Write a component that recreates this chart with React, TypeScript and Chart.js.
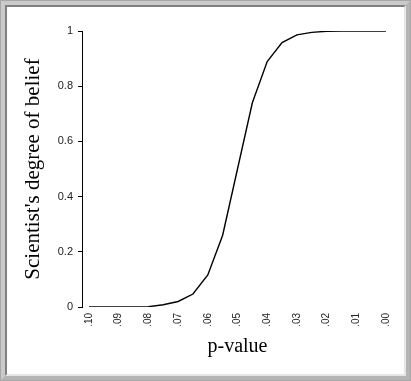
import React, { useEffect, useRef } from "react";
import { Chart, registerables } from "chart.js";

Chart.register(...registerables);

const pValues = [0.1, 0.095, 0.09, 0.085, 0.08, 0.075, 0.07, 0.065, 0.06, 0.055, 0.05, 0.045, 0.04, 0.035, 0.03, 0.025, 0.02, 0.015, 0.01, 0.005, 0];
const belief = [0, 0, 0, 0, 0.001, 0.008, 0.02, 0.047, 0.116, 0.26, 0.5, 0.74, 0.889, 0.958, 0.986, 0.995, 0.999, 1, 1, 1, 1];
const xTickValues = [0.1, 0.09, 0.08, 0.07, 0.06, 0.05, 0.04, 0.03, 0.02, 0.01, 0];

const W = 411;
const H = 381;

export default function App() {
  const ref = useRef<HTMLCanvasElement | null>(null);

  useEffect(() => {
    document.body.style.margin = "0";
    const canvas = ref.current;
    if (!canvas) return;
    const chart = new Chart(canvas, {
      type: "line",
      data: {
        datasets: [
          {
            data: pValues.map((p, i) => ({ x: p, y: belief[i] })),
            borderColor: "#000",
            borderWidth: 1.4,
            pointRadius: 0,
            tension: 0,
            fill: false,
          },
        ],
      },
      options: {
        animation: false,
        responsive: false,
        devicePixelRatio: 1,
        layout: { padding: { left: 13, top: 31, right: 18, bottom: 14 } },
        plugins: { legend: { display: false }, tooltip: { enabled: false } },
        scales: {
          x: {
            type: "linear",
            reverse: true,
            min: -0.00236,
            max: 0.10236,
            grid: { display: false, drawTicks: false },
            border: { display: false },
            afterBuildTicks: (scale: any) => {
              scale.ticks = xTickValues.map((v) => ({ value: v }));
            },
            afterFit: (scale: any) => {
              scale.height = H - 14 - 307;
            },
            ticks: {
              autoSkip: false,
              minRotation: 90,
              maxRotation: 90,
              padding: 6,
              color: "#222",
              font: { family: "Liberation Sans, Arial", size: 10 },
              callback: (v: any) => "." + String(Math.round(Number(v) * 100)).padStart(2, "0"),
            },
            title: {
              display: true,
              text: "p-value",
              color: "#000",
              font: { family: "Liberation Serif, Times New Roman", size: 20 },
              padding: { top: 0, bottom: 8 },
            },
          },
          y: {
            min: 0,
            max: 1,
            grid: { drawOnChartArea: false, drawTicks: true, tickLength: 4, color: "#000" },
            border: { display: true, color: "#000", width: 1 },
            afterFit: (scale: any) => {
              scale.width = 82 - 13;
            },
            ticks: {
              stepSize: 0.2,
              padding: 5,
              color: "#222",
              font: { family: "Liberation Sans, Arial", size: 11 },
              callback: (v: any) => String(Math.round(Number(v) * 10) / 10),
            },
            title: {
              display: true,
              text: "Scientist's degree of belief",
              color: "#000",
              font: { family: "Liberation Serif, Times New Roman", size: 21 },
              padding: { top: 8, bottom: 0 },
            },
          },
        },
      },
    });
    return () => chart.destroy();
  }, []);

  return (
    <div style={{ position: "fixed", left: 0, top: 0, width: W, height: H, background: "#fff" }}>
      <canvas ref={ref} width={W} height={H} style={{ position: "absolute", left: 0, top: 0 }} />
      <div
        style={{
          position: "absolute",
          left: 0,
          top: 0,
          width: W,
          height: H,
          boxSizing: "border-box",
          border: "1px solid #a8a8a8",
          pointerEvents: "none",
        }}
      >
        <div
          style={{
            position: "absolute",
            inset: 0,
            border: "4px solid #cacaca",
            borderRightColor: "#b4b4b4",
            borderBottomColor: "#b4b4b4",
          }}
        >
          <div
            style={{
              position: "absolute",
              inset: 0,
              borderTop: "2px solid #808080",
              borderLeft: "2px solid #808080",
              borderRight: "2px solid #e6e6e6",
              borderBottom: "2px solid #e6e6e6",
            }}
          />
        </div>
      </div>
    </div>
  );
}
